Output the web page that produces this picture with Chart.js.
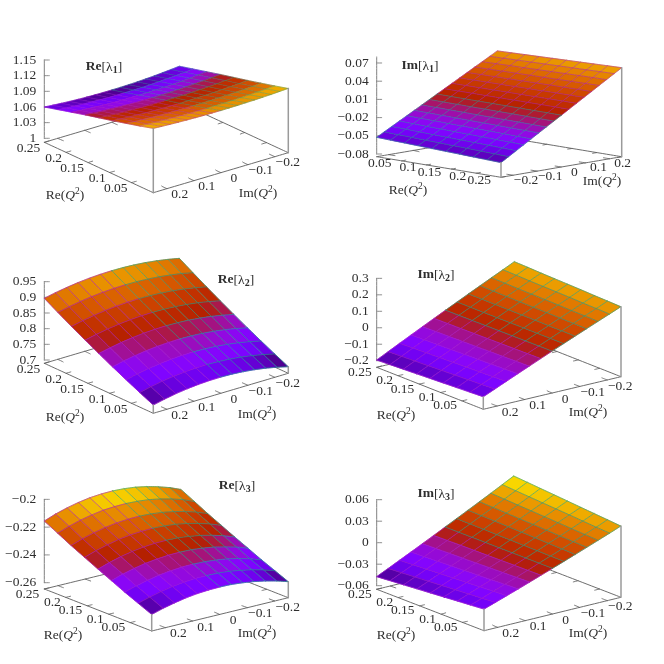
<!DOCTYPE html>
<html><head><meta charset="utf-8">
<style>html,body{margin:0;padding:0;background:#fff;width:664px;height:664px;overflow:hidden}canvas{position:absolute}</style>
<script src="https://cdn.jsdelivr.net/npm/chart.js@4"></script>
</head><body>
<script>
// ---------- axis values ----------
const reGrid9  = [0,0.03125,0.0625,0.09375,0.125,0.15625,0.1875,0.21875,0.25];
const reGrid10 = [0,0.02778,0.05556,0.08333,0.11111,0.13889,0.16667,0.19444,0.22222,0.25];
const imGrid13 = [0.25,0.20833,0.16667,0.125,0.08333,0.04167,0,-0.04167,-0.08333,-0.125,-0.16667,-0.20833,-0.25];
const imGrid17 = [0.25,0.21875,0.1875,0.15625,0.125,0.09375,0.0625,0.03125,0,-0.03125,-0.0625,-0.09375,-0.125,-0.15625,-0.1875,-0.21875,-0.25];
const reTicks = [0.05,0.1,0.15,0.2,0.25];
const imTicks = [-0.2,-0.1,0,0.1,0.2];
const zTicksReL1 = [1,1.03,1.06,1.09,1.12,1.15];
const zTicksImL1 = [-0.08,-0.05,-0.02,0.01,0.04,0.07];
const zTicksReL2 = [0.7,0.75,0.8,0.85,0.9,0.95];
const zTicksImL2 = [-0.2,-0.1,0,0.1,0.2,0.3];
const zTicksReL3 = [-0.26,-0.24,-0.22,-0.2];
const zTicksImL3 = [-0.06,-0.03,0,0.03,0.06];
// ---------- surface values: rows = Re(Q^2), columns = Im(Q^2) ----------
const reLambda1 = [
[1.1155,1.1146,1.1137,1.1131,1.1125,1.1121,1.1117,1.1116,1.1115,1.1116,1.1117,1.1121,1.1125,1.1131,1.1137,1.1146,1.1155],
[1.1080,1.1070,1.1061,1.1054,1.1048,1.1043,1.1040,1.1038,1.1038,1.1039,1.1041,1.1044,1.1049,1.1055,1.1062,1.1071,1.1082],
[1.1010,1.0999,1.0990,1.0983,1.0976,1.0971,1.0968,1.0967,1.0966,1.0967,1.0969,1.0973,1.0978,1.0985,1.0993,1.1003,1.1014],
[1.0940,1.0928,1.0918,1.0911,1.0903,1.0898,1.0895,1.0894,1.0893,1.0894,1.0897,1.0901,1.0907,1.0915,1.0923,1.0933,1.0946],
[1.0875,1.0863,1.0853,1.0845,1.0837,1.0832,1.0829,1.0828,1.0826,1.0828,1.0830,1.0835,1.0841,1.0849,1.0858,1.0870,1.0883],
[1.0810,1.0797,1.0786,1.0778,1.0770,1.0765,1.0760,1.0759,1.0759,1.0760,1.0763,1.0768,1.0775,1.0783,1.0793,1.0805,1.0819],
[1.0740,1.0726,1.0715,1.0705,1.0697,1.0691,1.0688,1.0686,1.0686,1.0688,1.0691,1.0696,1.0703,1.0712,1.0723,1.0736,1.0751],
[1.0670,1.0655,1.0643,1.0633,1.0626,1.0619,1.0615,1.0613,1.0614,1.0616,1.0618,1.0624,1.0633,1.0643,1.0653,1.0667,1.0683],
[1.0600,1.0586,1.0574,1.0563,1.0555,1.0549,1.0545,1.0543,1.0543,1.0544,1.0548,1.0554,1.0562,1.0572,1.0585,1.0599,1.0615]];
const imLambda1 = [
[0.0560,0.0492,0.0424,0.0357,0.0289,0.0221,0.0153,0.0085,0.0018,-0.0050,-0.0118,-0.0186,-0.0254,-0.0321,-0.0389,-0.0457,-0.0525],
[0.0567,0.0498,0.0429,0.0361,0.0292,0.0223,0.0154,0.0085,0.0017,-0.0052,-0.0121,-0.0190,-0.0259,-0.0327,-0.0396,-0.0465,-0.0534],
[0.0574,0.0504,0.0435,0.0365,0.0295,0.0225,0.0155,0.0086,0.0016,-0.0054,-0.0124,-0.0194,-0.0263,-0.0333,-0.0403,-0.0472,-0.0542],
[0.0581,0.0510,0.0439,0.0369,0.0298,0.0227,0.0156,0.0085,0.0015,-0.0056,-0.0127,-0.0198,-0.0269,-0.0339,-0.0410,-0.0481,-0.0551],
[0.0588,0.0516,0.0445,0.0373,0.0301,0.0230,0.0158,0.0086,0.0015,-0.0057,-0.0129,-0.0201,-0.0272,-0.0344,-0.0416,-0.0487,-0.0559],
[0.0595,0.0522,0.0450,0.0377,0.0304,0.0232,0.0159,0.0086,0.0014,-0.0059,-0.0132,-0.0205,-0.0277,-0.0350,-0.0423,-0.0495,-0.0568],
[0.0602,0.0528,0.0455,0.0381,0.0308,0.0234,0.0160,0.0087,0.0013,-0.0060,-0.0134,-0.0208,-0.0281,-0.0355,-0.0428,-0.0502,-0.0576],
[0.0609,0.0534,0.0460,0.0385,0.0311,0.0236,0.0161,0.0087,0.0012,-0.0062,-0.0137,-0.0212,-0.0286,-0.0361,-0.0435,-0.0510,-0.0585],
[0.0616,0.0540,0.0465,0.0389,0.0314,0.0238,0.0163,0.0087,0.0012,-0.0064,-0.0140,-0.0215,-0.0291,-0.0366,-0.0442,-0.0517,-0.0593],
[0.0623,0.0546,0.0470,0.0393,0.0316,0.0240,0.0163,0.0087,0.0010,-0.0066,-0.0143,-0.0219,-0.0296,-0.0373,-0.0449,-0.0526,-0.0602]];
const reLambda2 = [
[0.7160,0.7241,0.7307,0.7356,0.7391,0.7409,0.7413,0.7400,0.7373,0.7329,0.7271,0.7196,0.7106],
[0.7360,0.7440,0.7505,0.7555,0.7589,0.7608,0.7613,0.7601,0.7574,0.7532,0.7474,0.7401,0.7313],
[0.7567,0.7647,0.7711,0.7761,0.7796,0.7814,0.7819,0.7808,0.7783,0.7741,0.7685,0.7613,0.7527],
[0.7782,0.7861,0.7925,0.7975,0.8009,0.8028,0.8033,0.8023,0.7998,0.7958,0.7903,0.7833,0.7748],
[0.8004,0.8082,0.8145,0.8194,0.8229,0.8249,0.8253,0.8244,0.8220,0.8180,0.8127,0.8059,0.7977],
[0.8234,0.8311,0.8375,0.8423,0.8457,0.8477,0.8483,0.8474,0.8450,0.8413,0.8361,0.8294,0.8214],
[0.8471,0.8548,0.8610,0.8659,0.8693,0.8713,0.8718,0.8710,0.8688,0.8652,0.8601,0.8537,0.8458],
[0.8716,0.8792,0.8854,0.8902,0.8936,0.8956,0.8962,0.8955,0.8933,0.8899,0.8849,0.8789,0.8709],
[0.8968,0.9043,0.9104,0.9152,0.9186,0.9206,0.9213,0.9206,0.9186,0.9152,0.9104,0.9043,0.8968]];
const imLambda2 = [
[-0.1640,-0.1337,-0.1036,-0.0738,-0.0441,-0.0146,0.0145,0.0435,0.0722,0.1007,0.1290,0.1571,0.1850],
[-0.1680,-0.1372,-0.1066,-0.0763,-0.0461,-0.0162,0.0135,0.0430,0.0723,0.1012,0.1300,0.1586,0.1870],
[-0.1720,-0.1407,-0.1096,-0.0788,-0.0481,-0.0177,0.0125,0.0425,0.0722,0.1017,0.1310,0.1601,0.1890],
[-0.1760,-0.1441,-0.1125,-0.0810,-0.0497,-0.0187,0.0120,0.0426,0.0729,0.1030,0.1329,0.1626,0.1920],
[-0.1800,-0.1476,-0.1155,-0.0835,-0.0517,-0.0202,0.0110,0.0421,0.0729,0.1035,0.1339,0.1641,0.1940],
[-0.1840,-0.1511,-0.1185,-0.0860,-0.0537,-0.0217,0.0100,0.0416,0.0730,0.1041,0.1349,0.1656,0.1960],
[-0.1880,-0.1546,-0.1215,-0.0885,-0.0557,-0.0233,0.0090,0.0411,0.0730,0.1047,0.1359,0.1671,0.1980],
[-0.1920,-0.1580,-0.1243,-0.0908,-0.0574,-0.0243,0.0085,0.0412,0.0736,0.1058,0.1377,0.1694,0.2010],
[-0.1960,-0.1615,-0.1273,-0.0933,-0.0594,-0.0259,0.0075,0.0407,0.0736,0.1063,0.1387,0.1709,0.2030]];
const reLambda3 = [
[-0.2526,-0.2502,-0.2483,-0.2467,-0.2456,-0.2450,-0.2448,-0.2450,-0.2458,-0.2469,-0.2485,-0.2505,-0.2530],
[-0.2484,-0.2459,-0.2439,-0.2423,-0.2412,-0.2405,-0.2404,-0.2406,-0.2413,-0.2426,-0.2442,-0.2463,-0.2489],
[-0.2442,-0.2416,-0.2395,-0.2379,-0.2368,-0.2361,-0.2359,-0.2362,-0.2370,-0.2381,-0.2399,-0.2421,-0.2448],
[-0.2396,-0.2369,-0.2348,-0.2331,-0.2320,-0.2313,-0.2311,-0.2313,-0.2322,-0.2334,-0.2353,-0.2374,-0.2403],
[-0.2351,-0.2324,-0.2301,-0.2284,-0.2272,-0.2265,-0.2263,-0.2266,-0.2275,-0.2288,-0.2307,-0.2330,-0.2359],
[-0.2304,-0.2276,-0.2254,-0.2235,-0.2223,-0.2217,-0.2214,-0.2218,-0.2226,-0.2240,-0.2260,-0.2283,-0.2313],
[-0.2257,-0.2228,-0.2205,-0.2187,-0.2174,-0.2167,-0.2165,-0.2169,-0.2178,-0.2192,-0.2212,-0.2236,-0.2267],
[-0.2206,-0.2176,-0.2152,-0.2134,-0.2120,-0.2114,-0.2112,-0.2116,-0.2124,-0.2139,-0.2159,-0.2184,-0.2217],
[-0.2156,-0.2125,-0.2101,-0.2082,-0.2068,-0.2061,-0.2059,-0.2063,-0.2072,-0.2088,-0.2109,-0.2135,-0.2168]];
const imLambda3 = [
[-0.0349,-0.0294,-0.0239,-0.0184,-0.0127,-0.0070,-0.0013,0.0045,0.0104,0.0163,0.0223,0.0283,0.0344],
[-0.0365,-0.0308,-0.0250,-0.0192,-0.0133,-0.0074,-0.0013,0.0047,0.0108,0.0170,0.0232,0.0295,0.0359],
[-0.0380,-0.0320,-0.0260,-0.0200,-0.0138,-0.0076,-0.0013,0.0050,0.0113,0.0177,0.0242,0.0308,0.0374],
[-0.0396,-0.0334,-0.0271,-0.0208,-0.0143,-0.0079,-0.0013,0.0052,0.0118,0.0185,0.0252,0.0322,0.0389],
[-0.0412,-0.0347,-0.0282,-0.0216,-0.0149,-0.0082,-0.0013,0.0055,0.0124,0.0193,0.0263,0.0334,0.0405],
[-0.0427,-0.0360,-0.0292,-0.0224,-0.0154,-0.0084,-0.0013,0.0057,0.0129,0.0200,0.0273,0.0346,0.0420],
[-0.0443,-0.0373,-0.0303,-0.0231,-0.0159,-0.0086,-0.0014,0.0060,0.0133,0.0208,0.0282,0.0358,0.0435],
[-0.0458,-0.0386,-0.0313,-0.0239,-0.0164,-0.0090,-0.0014,0.0062,0.0138,0.0215,0.0292,0.0370,0.0450],
[-0.0474,-0.0399,-0.0323,-0.0247,-0.0170,-0.0093,-0.0014,0.0064,0.0143,0.0222,0.0302,0.0383,0.0465]];

// ---------- view settings (page pixels), one per panel ----------
const panels = [
 {id:'Re',n:'1',box:[0,30,332,210],L:[44.3,142.3],F:[153.3,192.7],R:[288.3,152.7],z0:1,z0Y:138.3,zTop:1.15,k:522,
  re:reGrid9,im:imGrid17,vals:reLambda1,zt:zTicksReL1,cb:[1.051,1.12],reL:0.25,reF:0,imF:0.25,imR:-0.25,mesh:0.45,
  title:[104,67],reT:[65,195],imT:[258,193],reOff:[-4,6],imOff:[13,6]},
 {id:'Im',n:'1',box:[332,30,332,210],L:[376.7,156.7],F:[501,177.3],R:[621.7,156.7],z0:-0.08,z0Y:154,zTop:0.08,k:606.7,
  re:reGrid10,im:imGrid17,vals:imLambda1,zt:zTicksImL1,cb:[-0.0765,0.081],reL:0,reF:0.25,imF:-0.25,imR:0.25,mesh:0.6,
  title:[420,66],reT:[408,190],imT:[602,181],reOff:[-10,3],imOff:[13,5]},
 {id:'Re',n:'2',box:[0,245,332,205],L:[44.3,363.3],F:[153.3,413.3],R:[288.3,373.3],z0:0.7,z0Y:360,zTop:0.95,k:313.3,
  re:reGrid9,im:imGrid13,vals:reLambda2,zt:zTicksReL2,cb:[0.701,0.9498],reL:0.25,reF:0,imF:0.25,imR:-0.25,mesh:0.75,
  title:[236,280],reT:[65,417],imT:[257,414],reOff:[-4,6],imOff:[13,6]},
 {id:'Im',n:'2',box:[332,245,332,205],L:[376.7,367.3],F:[483.3,409.3],R:[621,376.7],z0:-0.2,z0Y:360.7,zTop:0.3,k:164.7,
  re:reGrid9,im:imGrid13,vals:imLambda2,zt:zTicksImL2,cb:[-0.239,0.254],reL:0.25,reF:0,imF:0.25,imR:-0.25,mesh:0.75,
  title:[436,275],reT:[396,415],imT:[588,412],reOff:[-5,5],imOff:[13,6]},
 {id:'Re',n:'3',box:[0,460,332,204],L:[44.3,589],F:[151.7,631],R:[288.3,597.7],z0:-0.26,z0Y:582.7,zTop:-0.2,k:1389,
  re:reGrid9,im:imGrid13,vals:reLambda3,zt:zTicksReL3,cb:[-0.2552,-0.2052],reL:0.25,reF:0,imF:0.25,imR:-0.25,mesh:0.75,
  title:[237,486],reT:[63,635],imT:[257,633],reOff:[-5,5],imOff:[13,6]},
 {id:'Im',n:'3',box:[332,460,332,204],L:[376.7,589.3],F:[484,630.7],R:[621,597.3],z0:-0.06,z0Y:585.7,zTop:0.06,k:716.7,
  re:reGrid9,im:imGrid13,vals:imLambda3,zt:zTicksImL3,cb:[-0.0545,0.0475],reL:0.25,reF:0,imF:0.25,imR:-0.25,mesh:0.75,
  title:[436,494],reT:[396,635],imT:[588,633],reOff:[-5,5],imOff:[13,6]}
];

const FONT = '"Liberation Serif", serif';
const INK = '#2e2e2e';
const TINY_TENSION = 1e-6; // keeps Chart.js from merging points that share a pixel column
const fmt = v => String(v).replace('-', '\u2212');
function palette(x){ // gnuplot default pm3d palette
  x = Math.min(1, Math.max(0, x));
  const r = Math.sqrt(x), g = x*x*x, b = Math.max(0, Math.sin(2*Math.PI*x));
  return `rgb(${Math.round(r*255)},${Math.round(g*255)},${Math.round(b*255)})`;
}
function drawRuns(ctx, runs, cx, cy){
  let w = 0;
  runs.forEach(r => { ctx.font = r.f; w += ctx.measureText(r.t).width; });
  let x = cx - w/2;
  ctx.textAlign = 'left'; ctx.textBaseline = 'middle'; ctx.fillStyle = INK;
  runs.forEach(r => { ctx.font = r.f; ctx.fillText(r.t, x, cy + (r.d||0)); x += ctx.measureText(r.t).width; });
}

function buildPanel(p){
  const [bx,by,bw,bh] = p.box;
  const cv = document.createElement('canvas');
  cv.width = bw; cv.height = bh;
  cv.style.left = bx+'px'; cv.style.top = by+'px';
  cv.style.width = bw+'px'; cv.style.height = bh+'px';
  document.body.appendChild(cv);

  const floorPx = (re,im) => {
    const u = (re-p.reF)/(p.reL-p.reF), v = (im-p.imF)/(p.imR-p.imF);
    return [p.F[0]+u*(p.L[0]-p.F[0])+v*(p.R[0]-p.F[0]),
            p.F[1]+u*(p.L[1]-p.F[1])+v*(p.R[1]-p.F[1])];
  };
  const valAtY = py => p.z0 + (p.z0Y-py)/p.k;
  const X = px => px - p.L[0];
  const floorPt = (re,im) => { const q = floorPx(re,im); return {x:X(q[0]), y:valAtY(q[1])}; };
  const surfPt = (re,im,z) => { const q = floorPx(re,im); return {x:X(q[0]), y:z+(p.L[1]-q[1])/p.k}; };

  const list = [];
  const line = (pts,color,width) => list.push({data:pts,showLine:true,pointRadius:0,borderColor:color,borderWidth:width,
      backgroundColor:'transparent',fill:false,tension:TINY_TENSION,capBezierPoints:false,clip:false,borderCapStyle:'round'});
  const GREY='#5c5c5c';
  // floor outline
  line([floorPt(p.reL,p.imF),floorPt(p.reF,p.imF),floorPt(p.reF,p.imR),floorPt(p.reL,p.imR),floorPt(p.reL,p.imF)],GREY,0.9);
  // floor tick marks (and their mirrors on the far edges)
  reTicks.forEach(t=>{
    const d=(p.imR-p.imF)*0.035;
    line([floorPt(t,p.imF),floorPt(t,p.imF+d)],GREY,0.8);
    line([floorPt(t,p.imR),floorPt(t,p.imR-d)],GREY,0.8);
  });
  imTicks.forEach(t=>{
    const d=(p.reL-p.reF)*0.05;
    line([floorPt(p.reF,t),floorPt(p.reF+d,t)],GREY,0.8);
    line([floorPt(p.reL,t),floorPt(p.reL-d,t)],GREY,0.8);
  });
  // z axis
  line([{x:0,y:p.z0},{x:0,y:p.zTop}],'#808080',1);
  p.zt.forEach(t=>line([{x:0,y:t},{x:5,y:t}],'#808080',0.9));
  // surface cells, far to near
  const cells=[];
  for(let i=0;i<p.re.length-1;i++) for(let j=0;j<p.im.length-1;j++){
    const c=[[i,j],[i+1,j],[i+1,j+1],[i,j+1]];
    const zMean=c.reduce((s,[a,b])=>s+p.vals[a][b],0)/4;
    const depth=c.reduce((s,[a,b])=>s+floorPx(p.re[a],p.im[b])[1],0)/4;
    cells.push({c,zMean,depth});
  }
  cells.sort((a,b)=>a.depth-b.depth);
  cells.forEach(cell=>{
    const col=palette((cell.zMean-p.cb[0])/(p.cb[1]-p.cb[0]));
    const pts=cell.c.map(([a,b])=>surfPt(p.re[a],p.im[b],p.vals[a][b]));
    pts.push(pts[0]);
    list.push({data:pts,showLine:true,pointRadius:0,borderColor:col,borderWidth:0.7,backgroundColor:col,fill:'shape',tension:TINY_TENSION,capBezierPoints:false,clip:false});
  });
  // mesh lines: magenta for Im > 0, green for Im < 0
  const MAG='rgba(168,30,200,0.8)', GRN='rgba(25,165,140,0.8)';
  p.re.forEach((r,i)=>{
    const pos=[],neg=[];
    p.im.forEach((m,j)=>{
      const q=surfPt(r,m,p.vals[i][j]);
      if(m>=-1e-9) pos.push(q);
      if(m<=1e-9) neg.push(q);
    });
    line(pos,MAG,p.mesh); line(neg,GRN,p.mesh);
  });
  p.im.forEach((m,j)=>{
    line(p.re.map((r,i)=>surfPt(r,m,p.vals[i][j])), m>0?MAG:GRN, p.mesh);
  });
  // vertical borders at the near and right corners
  const zAt=(a,b)=>p.vals[a][b];
  const iF=p.reF===0?0:p.re.length-1, last=p.im.length-1;
  line([floorPt(p.reF,p.imF),surfPt(p.reF,p.imF,zAt(iF,p.imF===p.im[0]?0:last))],'#9a9a9a',1.5);
  line([floorPt(p.reF,p.imR),surfPt(p.reF,p.imR,zAt(iF,p.imR===p.im[0]?0:last))],'#9a9a9a',1.5);

  const labels={id:'labels',afterDraw(chart){
    const ctx=chart.ctx, sx=chart.scales.x, sy=chart.scales.y;
    ctx.save();
    const toPx=pt=>[sx.getPixelForValue(pt.x),sy.getPixelForValue(pt.y)];
    const tf='13.5px '+FONT;
    ctx.font=tf; ctx.fillStyle=INK; ctx.textBaseline='middle';
    reTicks.forEach(t=>{
      const [x,y]=toPx(floorPt(t,p.imF));
      ctx.textAlign='right'; ctx.fillText(fmt(t),x+p.reOff[0],y+p.reOff[1]);
    });
    imTicks.forEach(t=>{
      const [x,y]=toPx(floorPt(p.reF,t));
      ctx.textAlign='center'; ctx.fillText(fmt(t),x+p.imOff[0],y+p.imOff[1]);
    });
    const axisTitle=(name,c)=>drawRuns(ctx,[{t:name+'(',f:tf},{t:'Q',f:'italic '+tf},{t:'2',f:'9.5px '+FONT,d:-4},{t:')',f:tf}],c[0]-bx,c[1]-by);
    axisTitle('Re',p.reT); axisTitle('Im',p.imT);
    drawRuns(ctx,[{t:p.id,f:'bold 13.5px '+FONT},{t:'[\u03bb',f:tf},{t:p.n,f:'bold 10px '+FONT,d:3},{t:']',f:tf}],p.title[0]-bx,p.title[1]-by);
    ctx.restore();
  }};

  new Chart(cv,{
    type:'scatter',
    data:{datasets:list.reverse()},
    plugins:[labels],
    options:{
      responsive:false,animation:false,events:[],
      layout:{padding:0},
      plugins:{legend:{display:false},tooltip:{enabled:false},title:{display:false}},
      scales:{
        x:{type:'linear',display:false,min:0,max:bx+bw-p.L[0]},
        y:{type:'linear',position:'left',min:valAtY(by+bh),max:valAtY(by),
           grid:{display:false,drawTicks:false},border:{display:false},
           afterBuildTicks:s=>{s.ticks=p.zt.map(value=>({value}));},
           afterFit:s=>{s.width=p.L[0]-bx;s.paddingTop=0;s.paddingBottom=0;},
           ticks:{autoSkip:false,maxRotation:0,padding:8,color:INK,font:{family:FONT,size:13.5},callback:v=>fmt(v)}}
      }
    }
  });
}
panels.forEach(buildPanel);
</script>
</body></html>
